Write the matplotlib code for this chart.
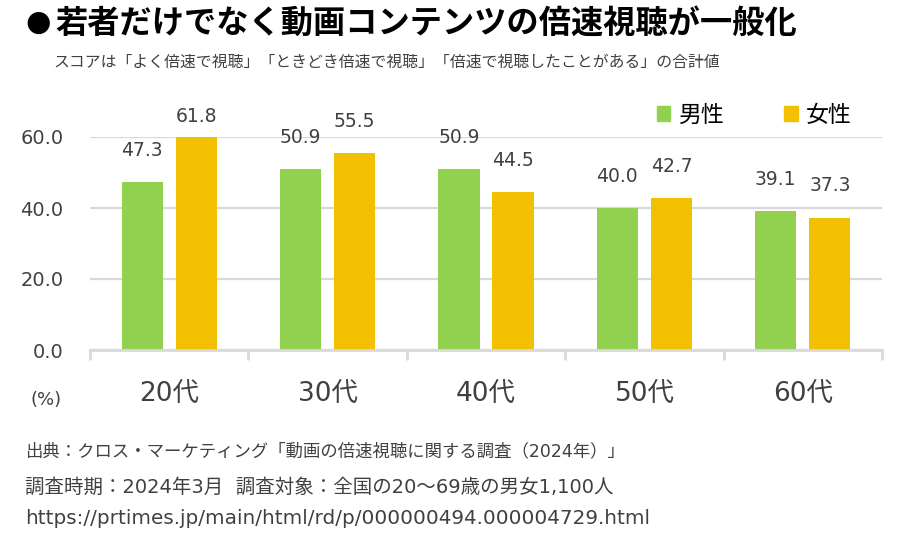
import matplotlib
matplotlib.use("Agg")
import matplotlib.pyplot as plt
import matplotlib.patches as mpatches
import numpy as np

# data
ages = ['20代', '30代', '40代', '50代', '60代']
male = [47.3, 50.9, 50.9, 40.0, 39.1]
female = [61.8, 55.5, 44.5, 42.7, 37.3]
series_names = ['男性', '女性']
yticks = [0, 20, 40, 60]

green = '#92D050'
yellow = '#F2C000'
grid_col = '#D9D9D9'
txt_col = '#404040'

jp = ['Noto Sans CJK JP', 'DejaVu Sans']
mix = ['DejaVu Sans', 'Noto Sans CJK JP']

fig = plt.figure(figsize=(9, 5.39), dpi=100)
fig.patch.set_facecolor('white')

# title / subtitle
fig.text(25/900, 1-23/539, '●', family='DejaVu Sans', fontsize=21, color='black',
         va='center', ha='left')
fig.text(55/900, 1-23/539, '若者だけでなく動画コンテンツの倍速視聴が一般化',
         family=jp, weight='bold', fontsize=23.2, color='black', va='center', ha='left')
fig.text(53/900, 1-62/539,
         'スコアは「よく倍速で視聴」「ときどき倍速で視聴」「倍速で視聴したことがある」の合計値',
         family=jp, fontsize=11.4, color=txt_col, va='center', ha='left')

ax = fig.add_axes([90/900, 1-350/539, 792/900, 213/539])
x = np.arange(len(ages))
w = 0.26
off = 0.171
ax.bar(x - off, male, w, color=green, zorder=3)
ax.bar(x + off, female, w, color=yellow, zorder=3)

ax.set_ylim(0, 60)
ax.set_xlim(-0.5, len(ages) - 0.5)

# value labels
for xs, vals in ((x - off, male), (x + off, female)):
    for xi, v in zip(xs, vals):
        top = min(v, 60)
        dy = 15 if v > 60 else 23
        ax.annotate(f'{v:.1f}', (xi, top), xytext=(0, dy), textcoords='offset points',
                    ha='center', va='center', fontsize=13.5, color=txt_col,
                    family='DejaVu Sans', annotation_clip=False)

# grid and axes
for s in ['top', 'right', 'left']:
    ax.spines[s].set_visible(False)
ax.spines['bottom'].set_color(grid_col)
ax.spines['bottom'].set_linewidth(2)
ax.spines['bottom'].set_zorder(4)
ax.yaxis.grid(True, color=grid_col, linewidth=1.6, zorder=0)
ax.set_axisbelow(True)

ax.set_yticks(yticks)
ax.set_yticklabels([f'{t:.1f}' for t in yticks], fontsize=14, color=txt_col, family='DejaVu Sans')
ax.tick_params(axis='y', length=0, pad=19)

ax.set_xticks(x)
ax.set_xticklabels(ages, fontsize=19, color=txt_col, family=mix)
ax.set_xticks(np.arange(-0.5, len(ages)), minor=True)
ax.tick_params(axis='x', which='major', length=0, pad=22)
ax.tick_params(axis='x', which='minor', length=7, width=2, color=grid_col, direction='out')

fig.text(46/900, 1-400/539, '(%)', fontsize=13, color=txt_col, ha='center', va='center',
         family='DejaVu Sans')

# legend
handles = [mpatches.Patch(color=green, label=series_names[0]),
           mpatches.Patch(color=yellow, label=series_names[1])]
fig.legend(handles=handles, loc='center', bbox_to_anchor=(754/900, 1-115/539), ncol=2,
           frameon=False, prop={'family': jp, 'size': 16.5}, handlelength=0.6,
           handleheight=0.6, handletextpad=0.35, columnspacing=2.6)

# footer
fig.text(25/900, 1-451/539, '出典：クロス・マーケティング「動画の倍速視聴に関する調査（2024年）」',
         family=mix, fontsize=12.5, color=txt_col, va='center', ha='left')
fig.text(25/900, 1-487/539, '調査時期：2024年3月  調査対象：全国の20～69歳の男女1,100人',
         family=mix, fontsize=14, color=txt_col, va='center', ha='left')
fig.text(25/900, 1-519/539, 'https://prtimes.jp/main/html/rd/p/000000494.000004729.html',
         family=mix, fontsize=14.4, color=txt_col, va='center', ha='left')

fig.savefig('out.png', dpi=100)
